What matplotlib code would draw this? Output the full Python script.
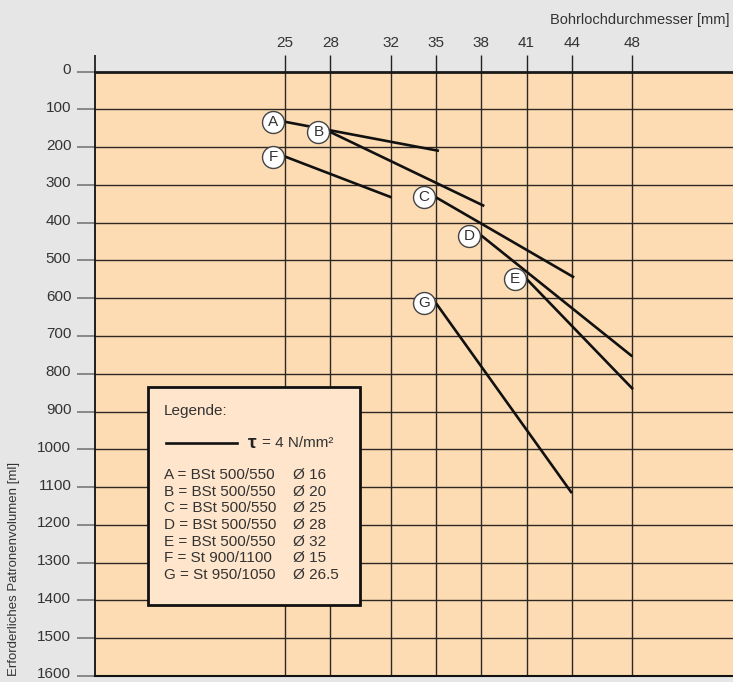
import matplotlib
matplotlib.use("Agg")
import matplotlib.pyplot as plt
import matplotlib.transforms as mtransforms
from matplotlib.patches import Rectangle

plt.rcParams['font.family'] = ['Liberation Sans', 'DejaVu Sans']

# bore hole diameter ticks [mm] and volume ticks [ml]
diam_ticks = [25, 28, 32, 35, 38, 41, 44, 48]
vol_ticks = list(range(0, 1700, 100))

# curves: letter, start/end diameter, start/end volume
letters = ['A', 'B', 'C', 'D', 'E', 'F', 'G']
d_start = [25, 28, 35, 38, 41, 25, 35]
d_end = [35.2, 38.2, 44.15, 48, 48.05, 32.05, 44]
v_start = [133, 160, 333, 434, 549, 225, 613]
v_end = [210, 356, 545, 754, 841, 333, 1116]

legend_rows = [
    ("A = BSt 500/550", "Ø 16"),
    ("B = BSt 500/550", "Ø 20"),
    ("C = BSt 500/550", "Ø 25"),
    ("D = BSt 500/550", "Ø 28"),
    ("E = BSt 500/550", "Ø 32"),
    ("F = St 900/1100", "Ø 15"),
    ("G = St 950/1050", "Ø 26.5"),
]

txt = '#333333'
grid_c = '#2e2823'

fig = plt.figure(figsize=(7.33, 6.82), dpi=100, facecolor='#e6e6e6')
ax = fig.add_axes([0.130, 0.0088, 0.870, 0.8863])
ax.set_facecolor('#fddcb4')

x_left, x_right = 12.44, 54.67
ax.set_xlim(x_left, x_right)
ax.set_ylim(1600, 0)

ax.set_xticks(diam_ticks)
ax.set_xticks([x_left], minor=True)
ax.set_yticks(vol_ticks)
ax.xaxis.tick_top()
ax.tick_params(axis='x', which='major', direction='out', length=12.6, width=1.0,
               color='#222222', pad=3, labelsize=11, labelcolor=txt)
ax.tick_params(axis='x', which='minor', direction='out', length=12.6, width=1.2,
               color='#111111')
ax.tick_params(axis='y', direction='out', length=13.3, width=1.1, color='#6e6e6e',
               pad=4, labelsize=11, labelcolor=txt)

# y labels sit a little above their tick in the original
shift = mtransforms.ScaledTranslation(0, 2.2 / 72, fig.dpi_scale_trans)
for lbl in ax.get_yticklabels():
    lbl.set_transform(lbl.get_transform() + shift)

for d in diam_ticks:
    ax.axvline(d, color=grid_c, lw=1.0, zorder=1)
for v in vol_ticks[1:-1]:
    ax.axhline(v, color=grid_c, lw=1.0, zorder=1)

ax.spines['right'].set_visible(False)
ax.spines['top'].set_linewidth(2.0)
ax.spines['top'].set_color('#1a1a1a')
ax.spines['left'].set_linewidth(1.3)
ax.spines['left'].set_color('#111111')
ax.spines['bottom'].set_linewidth(1.5)
ax.spines['bottom'].set_color('#111111')

circ_tr = mtransforms.offset_copy(ax.transData, fig=fig, x=-8.6, y=0, units='points')
for i, lab in enumerate(letters):
    ax.plot([d_start[i], d_end[i]], [v_start[i], v_end[i]], color='#111111',
            lw=1.9, solid_capstyle='butt', zorder=3)
    ax.plot(d_start[i], v_start[i], 'o', ms=15.8, mfc='white', mec='#444444',
            mew=1.0, transform=circ_tr, zorder=4)
    ax.text(d_start[i], v_start[i], lab, transform=circ_tr, ha='center',
            va='center', fontsize=11, color=txt, zorder=5)

# legend box
ax.add_patch(Rectangle((0.083, 0.1174), 0.332, 0.360, transform=ax.transAxes,
                       facecolor='#fee5cb', edgecolor='#111111', lw=2.0, zorder=6))
ax.text(0.1077, 0.4384, "Legende:", transform=ax.transAxes, ha='left', va='center',
        fontsize=11, color=txt, zorder=7)
ax.plot([0.1109, 0.2217], [0.3849, 0.3849], transform=ax.transAxes, color='#111111',
        lw=1.9, zorder=7)
ax.text(0.2395, 0.3849, "τ", transform=ax.transAxes, ha='left', va='center',
        fontsize=14, fontweight='bold', color='#222222', zorder=7)
ax.text(0.2615, 0.3849, "= 4 N/mm²", transform=ax.transAxes, ha='left', va='center',
        fontsize=11, color=txt, zorder=7)
for i, (left, right) in enumerate(legend_rows):
    y = 0.3325 - i * 0.02757
    ax.text(0.1077, y, left, transform=ax.transAxes, ha='left', va='center',
            fontsize=11, color=txt, zorder=7)
    ax.text(0.310, y, right, transform=ax.transAxes, ha='left', va='center',
            fontsize=11, color=txt, zorder=7)

fig.text(729 / 733, 1 - 20 / 682, "Bohrlochdurchmesser [mm]", ha='right', va='center',
         fontsize=10.5, color=txt)
fig.text(14 / 733, 6 / 682, "Erforderliches Patronenvolumen [ml]", rotation=90,
         ha='center', va='bottom', fontsize=9.5, color=txt)

fig.savefig("out.png", dpi=100, facecolor=fig.get_facecolor())
